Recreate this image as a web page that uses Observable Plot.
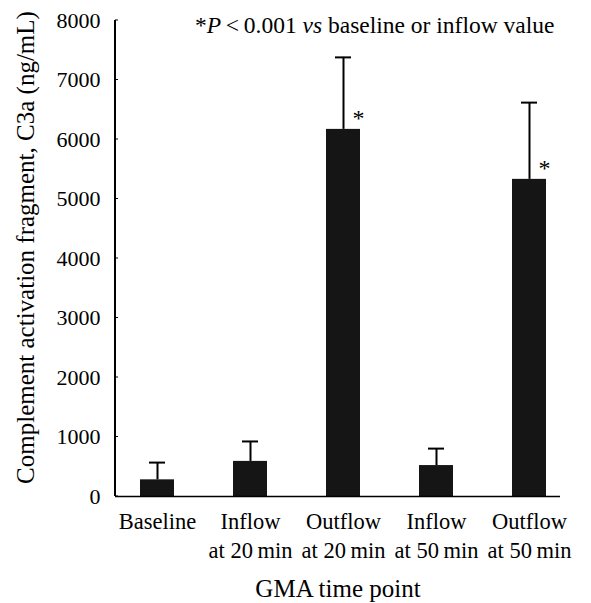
<!DOCTYPE html>
<html><head><meta charset="utf-8">
<script src="https://cdn.jsdelivr.net/npm/d3@7"></script>
<script src="https://cdn.jsdelivr.net/npm/@observablehq/plot@0.6"></script>
<style>
body{margin:0;background:#fff;}
svg{font-family:"Liberation Serif","Times New Roman",serif;}
</style>
</head><body><div id="chart"></div>
<script>
const categories = ["Baseline", "Inflow\nat 20\u2009min", "Outflow\nat 20\u2009min", "Inflow\nat 50\u2009min", "Outflow\nat 50\u2009min"];
const means = [280, 590, 6170, 520, 5330];
const upperErrors = [570, 925, 7380, 805, 6620];
const significant = [false, false, true, false, true];
const yTicks = [0, 1000, 2000, 3000, 4000, 5000, 6000, 7000, 8000];
const yLabel = "Complement activation fragment, C3a (ng/mL)";
const xLabel = "GMA time point";
const notePieces = [["*", false], ["P", true], ["\u2009<\u20090.001 ", false], ["vs", true], [" baseline or inflow value", false]];

const data = categories.map((c, i) => ({cat: c, mean: means[i], upper: upperErrors[i], sig: significant[i]}));

const M = {top: 20, right: 31, bottom: 107, left: 115};

function note(index, scales, values, dims, context) {
  const t = d3.create("svg:text")
    .attr("x", M.left + 80)
    .attr("y", scales.y(8000) + 13)
    .attr("font-size", 23.5)
    .attr("text-anchor", "start")
    .attr("fill", "#000")
    .style("white-space", "pre");
  for (const [s, it] of notePieces) {
    const sp = t.append("tspan").text(s);
    if (it) sp.attr("font-style", "italic");
  }
  return t.node();
}

const chart = Plot.plot({
  width: 591,
  height: 603,
  marginLeft: M.left,
  marginRight: M.right,
  marginTop: M.top,
  marginBottom: M.bottom,
  style: {fontFamily: "'Liberation Serif','Times New Roman',serif", background: "#fff", color: "#000"},
  x: {domain: categories, range: [120, 565], paddingInner: 0.635, paddingOuter: 0.2035, axis: null},
  y: {domain: [0, 8000], ticks: yTicks, axis: null},
  marks: [
    Plot.barY(data, {x: "cat", y: "mean", fill: "#151515"}),
    Plot.ruleX(data, {x: "cat", y1: "mean", y2: "upper", stroke: "#000", strokeWidth: 2}),
    Plot.tickY(data, {x: "cat", y: "upper", stroke: "#000", strokeWidth: 2, insetLeft: 9, insetRight: 9}),
    Plot.text(data.filter(d => d.sig), {x: "cat", y: "mean", text: () => "*", dx: 15, dy: -11, fontSize: 24, fill: "#000"}),
    Plot.ruleY([0], {stroke: "#000", strokeWidth: 1.5}),
    Plot.axisY({ticks: yTicks, tickSize: 0, tickPadding: 15, fontSize: 22, label: null, tickFormat: d => String(d)}),
    Plot.text(data, {x: "cat", text: "cat", frameAnchor: "bottom", lineAnchor: "top", dy: 11, fontSize: 22.5, lineHeight: 1.32, fill: "#000"}),
    Plot.text([xLabel], {frameAnchor: "bottom", dy: 100, fontSize: 25, fill: "#000"}),
    Plot.text([yLabel], {frameAnchor: "left", textAnchor: "middle", rotate: -90, dx: -90, dy: -11, fontSize: 25, fill: "#000"}),
    note
  ]
});

// y-axis line and small inward ticks, placed through the plot's own y scale
const yScale = chart.scale("y");
const svg = d3.select(chart);
const axisG = svg.append("g").attr("stroke", "#000");
axisG.append("line")
  .attr("x1", M.left).attr("x2", M.left)
  .attr("y1", yScale.apply(8000)).attr("y2", yScale.apply(0))
  .attr("stroke-width", 2);
for (const t of yTicks) {
  axisG.append("line")
    .attr("x1", M.left).attr("x2", M.left + 3)
    .attr("y1", yScale.apply(t)).attr("y2", yScale.apply(t))
    .attr("stroke-width", 1);
}
document.getElementById("chart").appendChild(chart);
</script>
</body></html>
